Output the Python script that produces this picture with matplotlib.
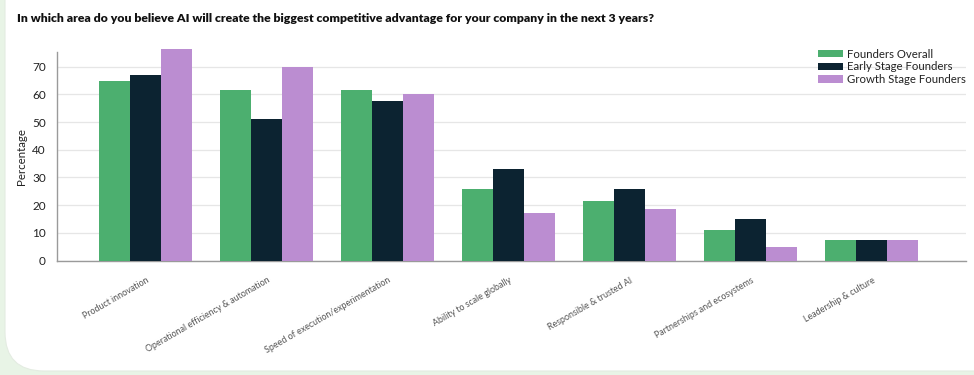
import numpy as np
import matplotlib
matplotlib.use("Agg")
import matplotlib.pyplot as plt
from matplotlib.patches import FancyBboxPatch

plt.rcParams['font.family'] = ['Lato', 'DejaVu Sans']

categories = ["Product innovation", "Operational efficiency & automation",
              "Speed of execution/experimentation", "Ability to scale globally",
              "Responsible & trusted AI", "Partnerships and ecosystems",
              "Leadership & culture"]
founders_overall = [65, 61.5, 61.5, 26, 21.5, 11, 7.5]
early_stage = [67, 51, 57.5, 33, 26, 15, 7.5]
growth_stage = [76.5, 70, 60, 17, 18.5, 5, 7.5]
series_names = ["Founders Overall", "Early Stage Founders", "Growth Stage Founders"]
colors = ["#4caf6f", "#0c2331", "#bb8dd1"]

W, H = 974, 375
fig = plt.figure(figsize=(W / 100, H / 100), dpi=100)
fig.patch.set_facecolor("#e8f4e6")

# white card behind everything
card = FancyBboxPatch((5 / W, 4 / H), 1.2, 1.2, transform=fig.transFigure,
                      boxstyle="round,pad=0,rounding_size=0.04",
                      facecolor="white", edgecolor="#e4ece2", linewidth=0.8,
                      mutation_aspect=W / H, zorder=-10)
fig.patches.append(card)

ax = fig.add_axes([57 / W, 1 - 260.5 / H, (966 - 57) / W, (260.5 - 52) / H])
ax.set_facecolor("none")
ax.set_zorder(2)

x = np.arange(len(categories))
w = 0.256
for i, (vals, name, c) in enumerate(zip([founders_overall, early_stage, growth_stage], series_names, colors)):
    ax.bar(x + (i - 1) * w, vals, w, color=c, label=name, zorder=3, clip_on=False)

ax.set_xlim(-0.733, 6.777)
ax.set_ylim(0, 75.3)
ax.set_yticks(range(0, 80, 10))
ax.yaxis.grid(True, color="#e6e6e6", linewidth=0.9, zorder=0)
ax.tick_params(axis="y", length=0, labelsize=8.5, labelcolor="#222222", pad=8)
ax.tick_params(axis="x", length=0, pad=11)
ax.set_xticks(x)
ax.set_xticklabels(categories, rotation=30, ha="right", rotation_mode="anchor",
                   fontsize=6.4, color="#555555")
for s in ["top", "right"]:
    ax.spines[s].set_visible(False)
for s in ["left", "bottom"]:
    ax.spines[s].set_color("#9a9a9a")
    ax.spines[s].set_linewidth(1.0)

ax.set_ylabel("Percentage", fontsize=8.3, color="#222222", labelpad=4)

leg = ax.legend(loc="upper left", bbox_to_anchor=(812 / W, 1 - 43 / H), bbox_transform=fig.transFigure,
                frameon=False, fontsize=8.2, handlelength=2.2, handleheight=0.6,
                handletextpad=0.4, labelspacing=0.15, borderpad=0)
for t in leg.get_texts():
    t.set_color("#222222")

fig.text(17 / W, 1 - 18 / H, "In which area do you believe AI will create the biggest competitive advantage for your company in the next 3 years?",
         fontsize=8.8, fontweight="heavy", color="#111111", va="center", ha="left")

fig.savefig("out.png", dpi=100, facecolor=fig.get_facecolor())
